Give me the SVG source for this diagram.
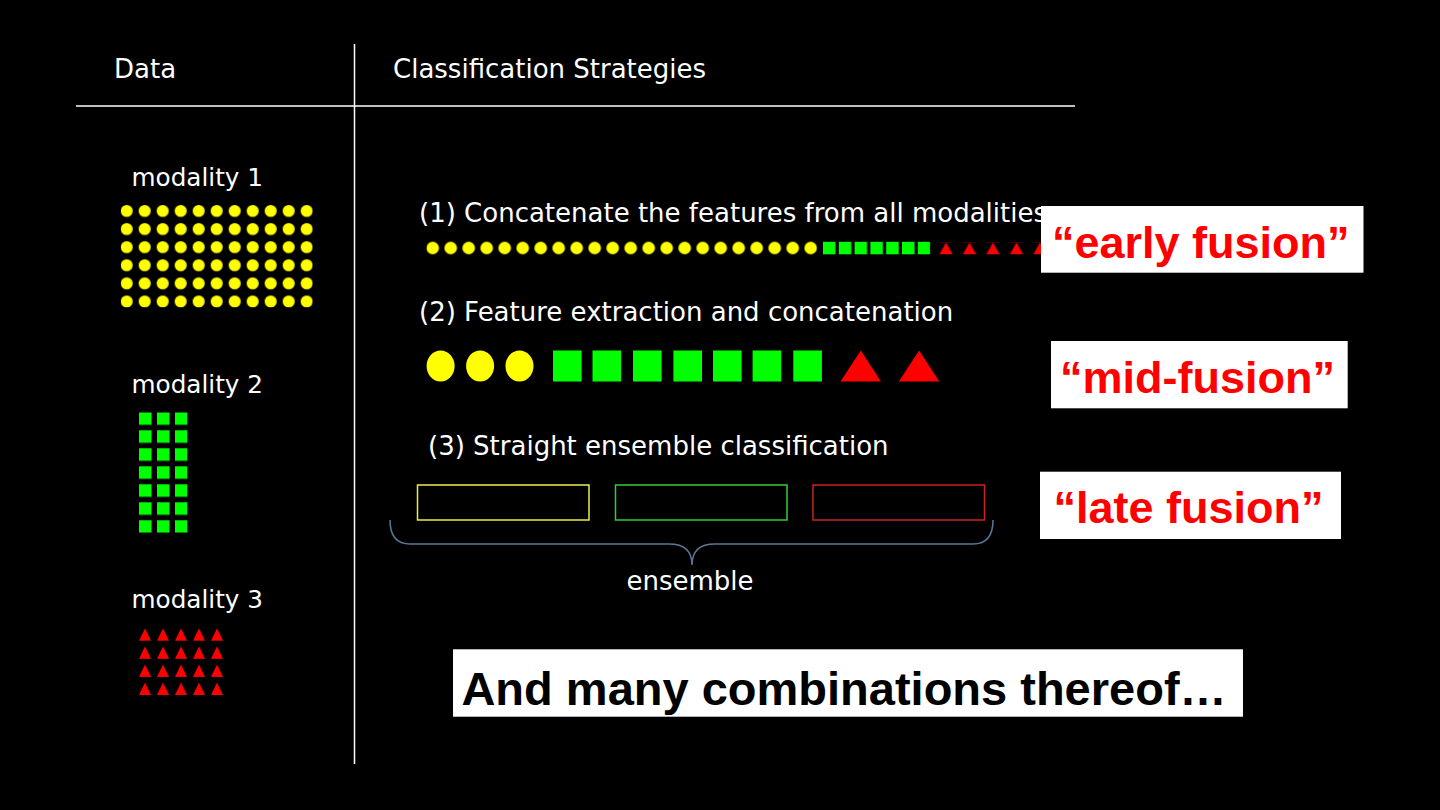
<svg xmlns="http://www.w3.org/2000/svg" width="1440" height="810" viewBox="0 0 1440 810">
<style>
.t{font-family:"DejaVu Sans","Liberation Sans",sans-serif;font-size:26px;fill:#ffffff}
.m{font-family:"DejaVu Sans","Liberation Sans",sans-serif;font-size:24.7px;fill:#ffffff}
.f{font-family:"Liberation Sans",Arial,sans-serif;font-size:45px;font-weight:bold;fill:#ff0000}
.b{font-family:"Liberation Sans",Arial,sans-serif;font-size:47px;font-weight:bold;fill:#000000}
.rule{stroke:#ffffff;stroke-width:1.5;fill:none}
.wbox{fill:#ffffff}
.yel{fill:#ffff00}
.grn{fill:#00ff00}
.red{fill:#ff0000}
</style>
<defs>
<pattern id="p-m1" patternUnits="userSpaceOnUse" x="120.7" y="205" width="18" height="18.1"><circle cx="6" cy="6" r="6" fill="#ffff00"/></pattern>
<pattern id="p-m2" patternUnits="userSpaceOnUse" x="139" y="412.3" width="18" height="18"><rect width="12.5" height="12.5" fill="#00ff00"/></pattern>
<pattern id="p-m3" patternUnits="userSpaceOnUse" x="139" y="628.3" width="18" height="18.1"><path d="M6,0 L12,12.4 L0,12.4Z" fill="#ff0000"/></pattern>
<pattern id="p-r1d" patternUnits="userSpaceOnUse" x="426.4" y="241.7" width="18" height="12.6"><circle cx="6.3" cy="6.3" r="6.3" fill="#ffff00"/></pattern>
<pattern id="p-r1s" patternUnits="userSpaceOnUse" x="823" y="241.8" width="15.8" height="12.5"><rect width="12.5" height="12.5" fill="#00ff00"/></pattern>
<pattern id="p-r1t" patternUnits="userSpaceOnUse" x="939.3" y="242.5" width="23.5" height="12"><path d="M6.7,0 L13.4,12 L0,12Z" fill="#ff0000"/></pattern>
<rect id="sq2" width="28.6" height="31"/>
<path id="tri2" d="M20.3,0 L40.5,31 L0,31Z"/>
</defs>
<rect width="1440" height="810" fill="#000000"/>

<g id="table-rules">
<line class="rule" x1="76" y1="106" x2="1075" y2="106"/>
<line class="rule" x1="354.5" y1="44" x2="354.5" y2="764"/>
</g>

<g id="header-data"><text class="t" x="114" y="78">Data</text></g>
<g id="header-strategies"><text class="t" x="393" y="78">Classification Strategies</text></g>

<g id="modality-1">
<text class="m" x="131.5" y="186">modality 1</text>
<rect x="120.7" y="205" width="192" height="102.5" fill="url(#p-m1)"/>
</g>
<g id="modality-2">
<text class="m" x="131.5" y="393">modality 2</text>
<rect x="139" y="412.3" width="48.5" height="120.5" fill="url(#p-m2)"/>
</g>
<g id="modality-3">
<text class="m" x="131.5" y="608">modality 3</text>
<rect x="139" y="628.3" width="84" height="66.7" fill="url(#p-m3)"/>
</g>

<g id="strategy-1">
<text class="t" x="419" y="222">(1) Concatenate the features from all modalities</text>
<rect x="426.4" y="241.7" width="390.6" height="12.6" fill="url(#p-r1d)"/>
<rect x="823" y="241.8" width="107.3" height="12.5" fill="url(#p-r1s)"/>
<rect x="939.3" y="242.5" width="107.4" height="12" fill="url(#p-r1t)"/>
</g>
<g id="label-early">
<rect class="wbox" x="1041" y="206" width="322.5" height="66.7"/>
<text class="f" x="1200.8" y="258" text-anchor="middle">“early fusion”</text>
</g>

<g id="strategy-2">
<text class="t" x="419" y="321">(2) Feature extraction and concatenation</text>
<ellipse class="yel" cx="440.6" cy="366" rx="14" ry="15.5"/>
<ellipse class="yel" cx="480.1" cy="366" rx="14" ry="15.5"/>
<ellipse class="yel" cx="519.5" cy="366" rx="14" ry="15.5"/>
<use href="#sq2" class="grn" x="553" y="350.5"/>
<use href="#sq2" class="grn" x="592.5" y="350.5"/>
<use href="#sq2" class="grn" x="633" y="350.5"/>
<use href="#sq2" class="grn" x="673.4" y="350.5"/>
<use href="#sq2" class="grn" x="713" y="350.5"/>
<use href="#sq2" class="grn" x="752.6" y="350.5"/>
<use href="#sq2" class="grn" x="793.3" y="350.5"/>
<use href="#tri2" class="red" x="840.5" y="350.5"/>
<use href="#tri2" class="red" x="898.8" y="350.5"/>
</g>
<g id="label-mid">
<rect class="wbox" x="1051" y="341" width="296.7" height="67.3"/>
<text class="f" x="1197.5" y="393" text-anchor="middle">“mid-fusion”</text>
</g>

<g id="strategy-3">
<text class="t" x="428" y="455">(3) Straight ensemble classification</text>
<rect x="417.5" y="485" width="171.5" height="35" fill="none" stroke="#eeee44" stroke-width="1.5"/>
<rect x="615.5" y="485" width="171.5" height="35" fill="none" stroke="#33cc33" stroke-width="1.5"/>
<rect x="813" y="485" width="171.5" height="35" fill="none" stroke="#cc2222" stroke-width="1.5"/>
</g>
<g id="label-late">
<rect class="wbox" x="1040" y="471.7" width="301" height="67.3"/>
<text class="f" x="1188.4" y="523" text-anchor="middle">“late fusion”</text>
</g>

<g id="connectors">
<path d="M390,520 Q390,544 410,544 L669,544 Q692,544 692,565 Q692,544 715,544 L973,544 Q993,544 993,520" fill="none" stroke="#5a7896" stroke-width="1.5"/>
</g>
<g id="ensemble-label"><text class="t" x="690" y="590" text-anchor="middle">ensemble</text></g>

<g id="combinations">
<rect class="wbox" x="453" y="649.3" width="790" height="67.4"/>
<text class="b" x="844" y="705" text-anchor="middle">And many combinations thereof…</text>
</g>
</svg>
